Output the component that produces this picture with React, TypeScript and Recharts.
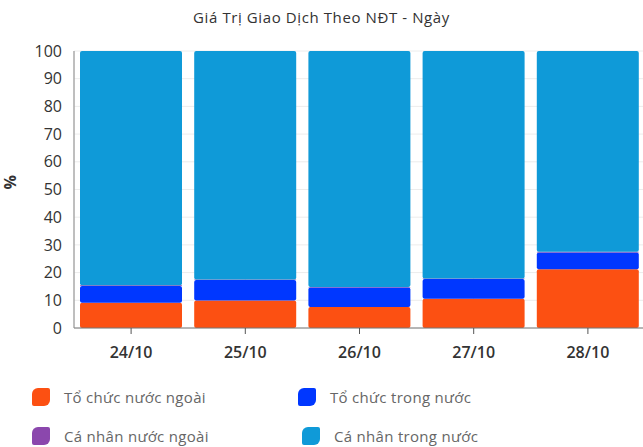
import { BarChart, Bar, CartesianGrid, XAxis, YAxis } from 'recharts';

const days = ['24/10', '25/10', '26/10', '27/10', '28/10'];
const toChucNuocNgoai = [9.1, 9.9, 7.6, 10.6, 21.2];
const toChucTrongNuoc = [6.1, 7.4, 7.0, 7.1, 6.1];
const caNhanNuocNgoai = [0.2, 0.2, 0.2, 0.2, 0.2];
const caNhanTrongNuoc = [84.6, 82.5, 85.2, 82.1, 72.5];

const yTicks = [0, 10, 20, 30, 40, 50, 60, 70, 80, 90, 100];

const SERIES = [
  { key: 'tcnn', name: 'Tổ chức nước ngoài', color: '#fc5012', values: toChucNuocNgoai },
  { key: 'tctn', name: 'Tổ chức trong nước', color: '#0037ff', values: toChucTrongNuoc },
  { key: 'cnnn', name: 'Cá nhân nước ngoài', color: '#8b47ad', values: caNhanNuocNgoai },
  { key: 'cntn', name: 'Cá nhân trong nước', color: '#0f9ad8', values: caNhanTrongNuoc },
];

const data = days.map((day, i) => {
  const row: { [k: string]: number | string } = { day };
  SERIES.forEach(s => {
    row[s.key] = s.values[i];
  });
  return row;
});

const FONT = '"Open Sans", "Noto Sans", sans-serif';

// legend drawn as plain html under the chart, 2 columns like the original
function LegendBox() {
  const cell = (s: (typeof SERIES)[number], left: number, top: number) => (
    <div
      key={s.key}
      style={{ position: 'absolute', left, top, display: 'flex', alignItems: 'center' }}
    >
      <div
        style={{
          width: 18,
          height: 18,
          background: s.color,
          borderRadius: '6px 2px 6px 2px',
          marginRight: 14,
        }}
      />
      <span style={{ fontSize: 15, color: '#666', fontFamily: FONT, letterSpacing: 0.3 }}>
        {s.name}
      </span>
    </div>
  );
  return (
    <div style={{ position: 'absolute', left: 0, top: 387, width: 643, height: 60 }}>
      {cell(SERIES[0], 32, 0)}
      {cell(SERIES[1], 298, 0)}
      {cell(SERIES[2], 32, 39)}
      {cell(SERIES[3], 302, 39)}
    </div>
  );
}

export default function App() {
  return (
    <div
      style={{
        position: 'absolute',
        left: 0,
        top: 0,
        width: 643,
        height: 447,
        overflow: 'hidden',
        background: '#fff',
        fontFamily: FONT,
      }}
    >
      <div
        style={{
          position: 'absolute',
          top: 7,
          left: 0,
          width: 643,
          textAlign: 'center',
          fontSize: 15,
          fontWeight: 500,
          letterSpacing: 0.6,
          color: '#333',
        }}
      >
        Giá Trị Giao Dịch Theo NĐT - Ngày
      </div>
      <BarChart
        width={660}
        height={447}
        data={data}
        margin={{ top: 51, right: 15, left: 0, bottom: 79 }}
        barCategoryGap={6}
        style={{ position: 'absolute', left: 0, top: 0 }}
      >
        <CartesianGrid stroke="#ececec" vertical horizontal />
        <XAxis
          dataKey="day"
          height={40}
          stroke="#777"
          tickLine={{ stroke: '#555' }}
          tickSize={6}
          tick={{ fill: '#333', fontSize: 16, fontWeight: 600, fontFamily: FONT }}
          tickMargin={13}
          interval={0}
        />
        <YAxis
          width={74}
          domain={[0, 100]}
          ticks={yTicks}
          stroke="#888"
          tickLine={false}
          tick={{ fill: '#333', fontSize: 16, fontWeight: 500, fontFamily: FONT }}
          tickMargin={6}
          interval={0}
          label={{
            value: '%',
            angle: -90,
            position: 'insideLeft',
            offset: 10,
            fill: '#333',
            fontSize: 16,
            fontWeight: 700,
            fontFamily: FONT,
          }}
        />
        {SERIES.map(s => (
          <Bar
            key={s.key}
            dataKey={s.key}
            name={s.name}
            stackId="a"
            fill={s.color}
            radius={2}
            isAnimationActive={false}
          />
        ))}
      </BarChart>
      <LegendBox />
    </div>
  );
}
